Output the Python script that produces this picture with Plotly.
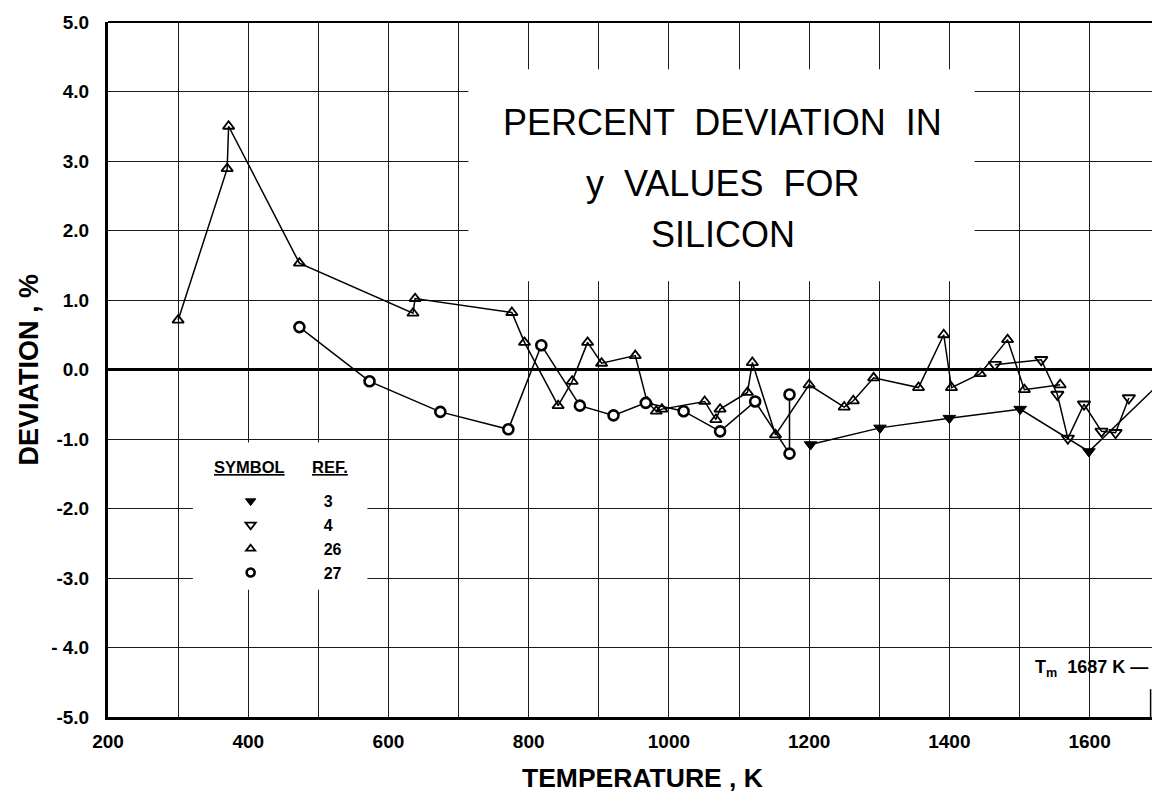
import plotly.graph_objects as go

# ---------------- data ----------------
ref3_T = [1202, 1301, 1400, 1501, 1599, 1700]
ref3_D = [-1.08, -0.84, -0.70, -0.57, -1.18, -0.20]

ref4_T = [1465, 1531, 1554, 1569, 1592, 1617, 1637, 1656]
ref4_D = [0.07, 0.14, -0.36, -0.99, -0.50, -0.89, -0.91, -0.41]

ref26_T = [300, 370, 372, 473, 635, 638, 776, 794, 842, 862, 884, 904, 952,
           969, 982, 990, 1051, 1067, 1073, 1112, 1119, 1152, 1200, 1250,
           1263, 1292, 1356, 1392, 1403, 1444, 1483, 1507, 1558]
ref26_D = [0.71, 2.89, 3.50, 1.53, 0.81, 1.02, 0.82, 0.39, -0.52, -0.17, 0.39,
           0.09, 0.20, -0.47, -0.60, -0.57, -0.46, -0.72, -0.57, -0.33, 0.10,
           -0.94, -0.22, -0.54, -0.45, -0.12, -0.26, 0.50, -0.26, -0.06, 0.43,
           -0.29, -0.22]

ref27_T = [473, 573, 674, 771, 818, 873, 921, 967, 1021, 1073, 1123, 1172, 1172]
ref27_D = [0.61, -0.17, -0.61, -0.86, 0.35, -0.52, -0.66, -0.48, -0.60, -0.89,
           -0.46, -1.21, -0.36]

legend_refs = ["3", "4", "26", "27"]
legend_headers = ["SYMBOL", "REF."]

x_tickvals = [200, 400, 600, 800, 1000, 1200, 1400, 1600]
x_ticktext = ["200", "400", "600", "800", "1000", "1200", "1400", "1600"]
y_tickvals = [-5, -4, -3, -2, -1, 0, 1, 2, 3, 4, 5]
y_ticktext = ["-5.0", "- 4.0", "-3.0", "-2.0", "-1.0", "0.0", "1.0", "2.0",
              "3.0", "4.0", "5.0"]

title_lines = ["PERCENT  DEVIATION  IN", "y  VALUES  FOR", "SILICON"]
melting_T = 1687

# ---------------- figure ----------------
FONT = "Liberation Sans, Arial, sans-serif"
line_style = dict(color="black", width=1.5)

styles = {
    "3": dict(symbol="triangle-down", size=11, color="black",
              line=dict(color="black", width=1)),
    "4": dict(symbol="triangle-down-open", size=11, color="black",
              line=dict(color="black", width=1.8)),
    "26": dict(symbol="triangle-up-open", size=10, color="black",
               line=dict(color="black", width=1.8)),
    "27": dict(symbol="circle", size=10, color="white",
               line=dict(color="black", width=2.6)),
}

fig = go.Figure()
for ref, xs, ys in [("26", ref26_T, ref26_D), ("27", ref27_T, ref27_D),
                    ("4", ref4_T, ref4_D), ("3", ref3_T, ref3_D)]:
    fig.add_trace(go.Scatter(x=xs, y=ys, mode="lines+markers", line=line_style,
                             marker=styles[ref], showlegend=False,
                             name="Ref. " + ref))

legend_marker_sizes = {"3": 9, "4": 9, "26": 8, "27": 8}
for ref in legend_refs:
    m = dict(styles[ref])
    m["size"] = legend_marker_sizes[ref]
    fig.add_trace(go.Scatter(x=[None], y=[None], mode="markers", marker=m,
                             name=ref, showlegend=True))

grid_col = "#1a1a1a"
fig.update_layout(
    width=1152, height=793,
    margin=dict(l=108, r=0, t=22, b=76),
    paper_bgcolor="white", plot_bgcolor="white",
    font=dict(family=FONT, color="black"),
    xaxis=dict(range=[200, 1689], tickvals=x_tickvals, ticktext=x_ticktext,
               showgrid=True, gridcolor=grid_col, gridwidth=1.2,
               minor=dict(dtick=100, showgrid=True, gridcolor=grid_col,
                          gridwidth=1.2),
               showline=True, linecolor="black", linewidth=3,
               ticks="", zeroline=False,
               tickfont=dict(family=FONT, size=19, color="black", weight="bold"),
               ticklabelstandoff=5),
    yaxis=dict(range=[-5, 5], tickvals=y_tickvals, ticktext=y_ticktext,
               showgrid=True, gridcolor=grid_col, gridwidth=1.2,
               showline=True, linecolor="black", linewidth=3,
               zeroline=True, zerolinecolor="black", zerolinewidth=3,
               ticks="", tickfont=dict(family=FONT, size=19, color="black",
                                       weight="bold"),
               ticklabelstandoff=12),
    legend=dict(x=0.0667, y=0.335, xanchor="left", yanchor="top",
                bgcolor="rgba(0,0,0,0)", borderwidth=0,
                itemwidth=136, tracegroupgap=0,
                font=dict(family=FONT, size=16, color="black", weight="bold")),
)

# white boxes that interrupt the grid (title panel and legend panel)
fig.add_shape(type="rect", xref="x", yref="y", x0=714, x1=1436, y0=1.27, y1=4.32,
              fillcolor="white", line=dict(width=0), layer="between")
fig.add_shape(type="rect", xref="x", yref="y", x0=321, x1=570, y0=-3.17, y1=-1.05,
              fillcolor="white", line=dict(width=0), layer="between")

# top border
fig.add_shape(type="line", xref="paper", yref="paper", x0=0, x1=1, y0=1, y1=1,
              line=dict(color="black", width=2))
# melting point marker
fig.add_shape(type="line", xref="x", yref="y", x0=melting_T, x1=melting_T,
              y0=-5, y1=-4.6, line=dict(color="black", width=1.5))

# legend column headers
for txt, xx in zip(legend_headers, [0.1356, 0.2122]):
    fig.add_annotation(text="<b><u>" + txt + "</u></b>", xref="paper", yref="paper",
                       x=xx, y=0.3597, xanchor="center", yanchor="middle",
                       showarrow=False,
                       font=dict(family=FONT, size=16.5, color="black"))

# title panel text
title_y = [0.856, 0.768, 0.694]
for txt, yy in zip(title_lines, title_y):
    fig.add_annotation(text=txt, xref="paper", yref="paper", x=0.589, y=yy,
                       xanchor="center", yanchor="middle", showarrow=False,
                       font=dict(family=FONT, size=36, color="black"))

# axis titles
fig.add_annotation(text="<b>DEVIATION , %</b>", xref="paper", yref="paper",
                   x=-0.0757, y=0.5, xanchor="center", yanchor="middle",
                   textangle=-90, showarrow=False,
                   font=dict(family=FONT, size=27, color="black"))
fig.add_annotation(text="<b>TEMPERATURE , K</b>", xref="paper", yref="paper",
                   x=0.5115, y=-0.088, xanchor="center", yanchor="middle",
                   showarrow=False, font=dict(family=FONT, size=26.5, color="black"))

# melting point label
fig.add_annotation(text="<b>T<sub>m</sub>  1687 K —</b>", xref="paper", yref="paper",
                   x=0.998, y=0.0705, xanchor="right", yanchor="middle",
                   showarrow=False, font=dict(family=FONT, size=18, color="black"))

fig.write_html("out.html")
